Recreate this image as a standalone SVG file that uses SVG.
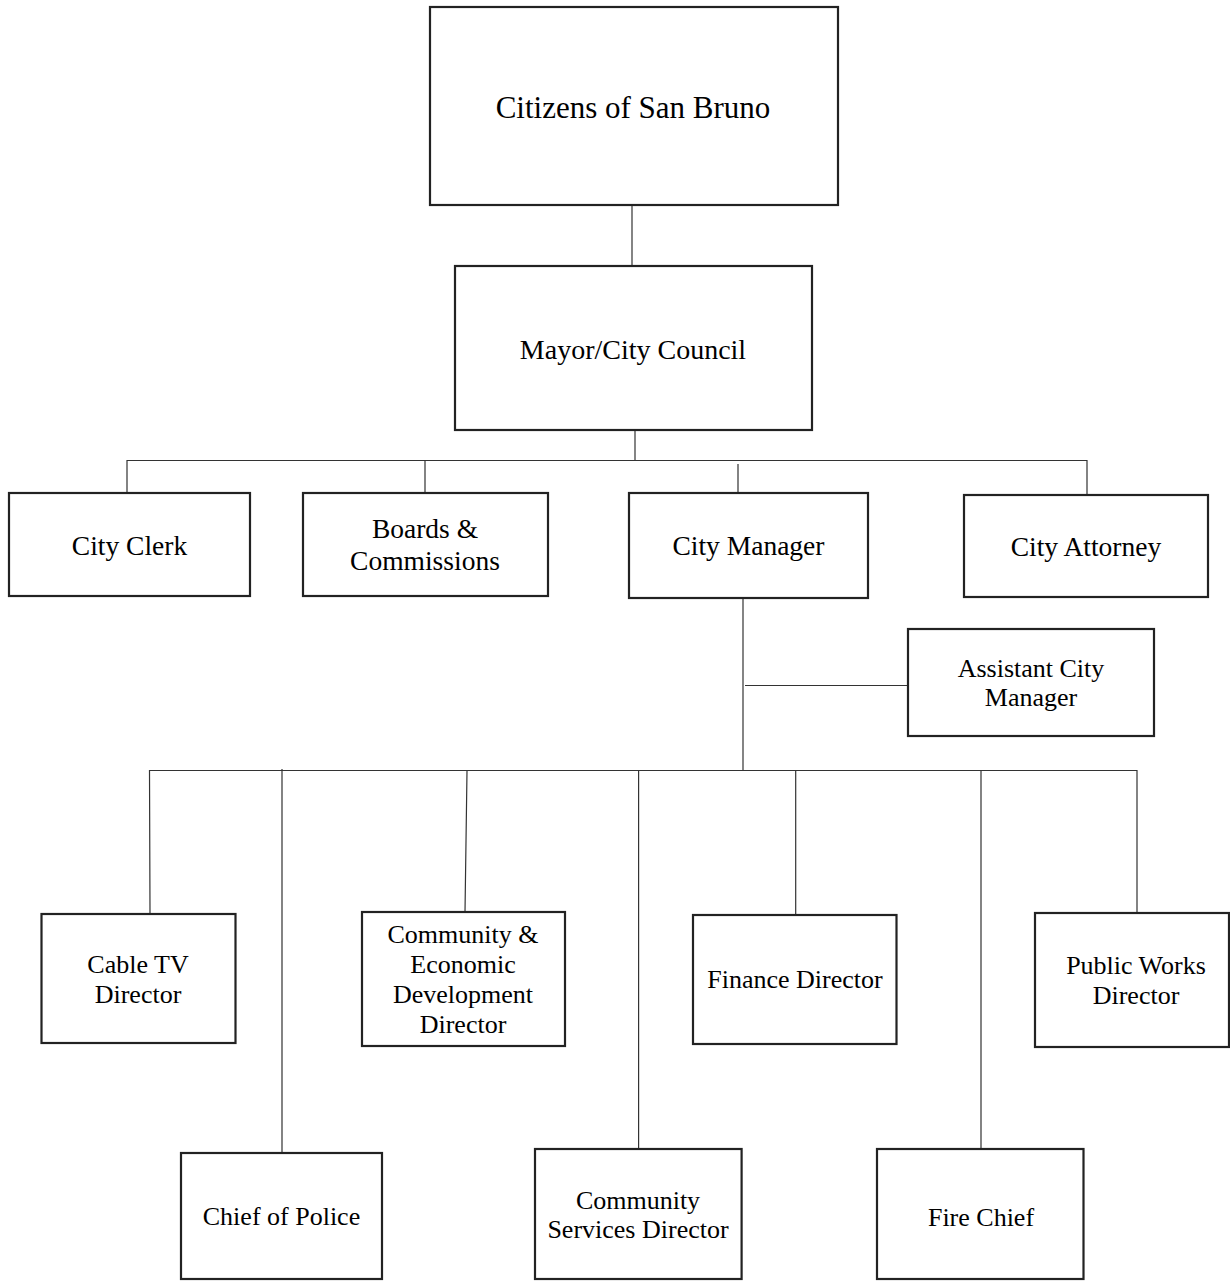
<svg xmlns="http://www.w3.org/2000/svg" width="1230" height="1281" viewBox="0 0 1230 1281">
<style>
.box{fill:#fff;stroke:#222;stroke-width:2.2}
.c{fill:none;stroke:#333;stroke-width:1.2}
text{font-family:"Liberation Serif","Times New Roman",serif;fill:#000;text-anchor:middle}
.t1{font-size:31px}
.t2{font-size:28px}
.t3{font-size:27.5px}
.t4{font-size:26px}
</style>
<rect width="1230" height="1281" fill="#fff"/>
<g id="connectors">
<path class="c" d="M632 205V266"/>
<path class="c" d="M635 430V461"/>
<path class="c" d="M127 460.5H1087"/>
<path class="c" d="M127 460V493M425 460V493M738 464V493M1087 460V495"/>
<path class="c" d="M743 597V770"/>
<path class="c" d="M745 685.5H908"/>
<path class="c" d="M149.5 770.5H1137"/>
<path class="c" d="M149.5 770L150 914M282 769V1153M467 771L465 912M638.6 771V1149M795.7 770V915M981 771V1149M1137 770V913"/>
</g>
<g id="citizens"><rect class="box" x="430" y="7" width="408" height="198"/><text class="t1" x="633" y="118">Citizens of San Bruno</text></g>
<g id="mayor"><rect class="box" x="455" y="266" width="357" height="164"/><text class="t2" x="633" y="359">Mayor/City Council</text></g>
<g id="city-clerk"><rect class="box" x="9" y="493" width="241" height="103"/><text class="t3" x="129.5" y="555">City Clerk</text></g>
<g id="boards"><rect class="box" x="303" y="493" width="245" height="103"/><text class="t3" x="425" y="538">Boards &amp;</text><text class="t3" x="425" y="570">Commissions</text></g>
<g id="city-manager"><rect class="box" x="629" y="493" width="239" height="105"/><text class="t3" x="748.5" y="555">City Manager</text></g>
<g id="city-attorney"><rect class="box" x="964" y="495" width="244" height="102"/><text class="t3" x="1086" y="556">City Attorney</text></g>
<g id="assistant-city-manager"><rect class="box" x="908" y="629" width="246" height="107"/><text class="t4" x="1031" y="677">Assistant City</text><text class="t4" x="1031" y="706">Manager</text></g>
<g id="cable-tv"><rect class="box" x="41.5" y="914" width="194" height="129"/><text class="t4" x="138" y="973">Cable TV</text><text class="t4" x="138" y="1003">Director</text></g>
<g id="community-economic"><rect class="box" x="362" y="912" width="203" height="134"/><text class="t4" x="463" y="943">Community &amp;</text><text class="t4" x="463" y="973">Economic</text><text class="t4" x="463" y="1003">Development</text><text class="t4" x="463" y="1033">Director</text></g>
<g id="finance"><rect class="box" x="693" y="915" width="203.5" height="129"/><text class="t4" x="795" y="988">Finance Director</text></g>
<g id="public-works"><rect class="box" x="1035" y="913" width="194" height="134"/><text class="t4" x="1136" y="974">Public Works</text><text class="t4" x="1136" y="1004">Director</text></g>
<g id="police"><rect class="box" x="181" y="1153" width="201" height="126"/><text class="t4" x="281.5" y="1225">Chief of Police</text></g>
<g id="community-services"><rect class="box" x="535" y="1149" width="206.6" height="130"/><text class="t4" x="638" y="1209">Community</text><text class="t4" x="638" y="1238">Services Director</text></g>
<g id="fire"><rect class="box" x="877" y="1149" width="206.5" height="130"/><text class="t4" x="981" y="1226">Fire Chief</text></g>
</svg>
